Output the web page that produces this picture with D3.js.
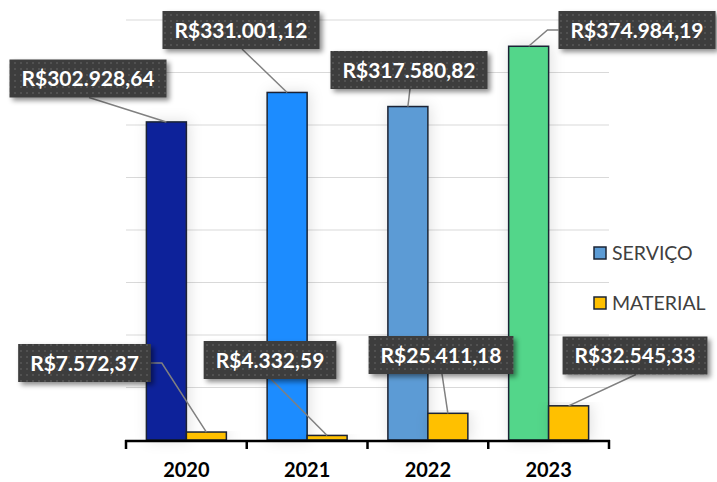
<!DOCTYPE html>
<html lang="pt">
<head>
<meta charset="UTF-8">
<title>Serviço x Material</title>
<script src="https://d3js.org/d3.v7.min.js"></script>
<style>
  body { margin: 0; background: #fff; }
  svg { display: block; }
</style>
</head>
<body>
<svg id="chart" width="717" height="482"></svg>
<script>
// data
const years = ["2020", "2021", "2022", "2023"];
const servico = [302928.64, 331001.12, 317580.82, 374984.19];
const material = [7572.37, 4332.59, 25411.18, 32545.33];
const seriesNames = ["SERVIÇO", "MATERIAL"];
const servicoColors = ["#10219a", "#1a8cff", "#5b9bd5", "#52d68a"];
const materialColor = "#ffc000";

// label box centres (layout only)
const servicoLabelPos = [[88, 78.5], [241, 30], [409, 70], [637, 30]];
const materialLabelPos = [[84.5, 363], [270, 360], [441, 355], [635, 355.5]];

const plotLeft = 126, plotRight = 609, plotBottom = 440, plotTop = 20;

const svg = d3.select("#chart");
const defs = svg.append("defs");

const pat = defs.append("pattern")
  .attr("id", "dots").attr("width", 6).attr("height", 6)
  .attr("patternUnits", "userSpaceOnUse");
pat.append("rect").attr("width", 6).attr("height", 6).attr("fill", "#3d3d3d");
pat.append("circle").attr("cx", 3).attr("cy", 3).attr("r", 0.9).attr("fill", "#5a5a5a");

defs.append("filter").attr("id", "boxShadow")
  .attr("x", "-20%").attr("y", "-30%").attr("width", "140%").attr("height", "170%")
  .append("feDropShadow").attr("dx", 3).attr("dy", 3).attr("stdDeviation", 2.5)
  .attr("flood-color", "#000").attr("flood-opacity", 0.45);

defs.append("filter").attr("id", "barShadow")
  .attr("x", "-60%").attr("y", "-10%").attr("width", "220%").attr("height", "120%")
  .append("feDropShadow").attr("dx", 2).attr("dy", 0).attr("stdDeviation", 7)
  .attr("flood-color", "#000").attr("flood-opacity", 0.12);

const fmt = v => "R$" + d3.format(",.2f")(v).replace(/,/g, "#").replace(/\./g, ",").replace(/#/g, ".");

const x = d3.scaleBand().domain(years).range([plotLeft, plotRight]).paddingInner(0).paddingOuter(0);
const xs = d3.scaleBand().domain(seriesNames).range([0, x.bandwidth()]).paddingInner(0).paddingOuter(0.51);
const y = d3.scaleLinear().domain([0, 400000]).range([plotBottom, plotTop]);

// gridlines
svg.append("g")
  .selectAll("line")
  .data(y.ticks(8).filter(d => d > 0))
  .join("line")
    .attr("x1", plotLeft).attr("x2", plotRight)
    .attr("y1", d => y(d)).attr("y2", d => y(d))
    .attr("stroke", "#d9d9d9").attr("stroke-width", 1);

// bars
const bars = [];
years.forEach((yr, i) => {
  bars.push({ year: yr, s: "SERVIÇO", v: servico[i], color: servicoColors[i], pos: servicoLabelPos[i] });
  bars.push({ year: yr, s: "MATERIAL", v: material[i], color: materialColor, pos: materialLabelPos[i] });
});

svg.append("g")
  .selectAll("rect")
  .data(bars)
  .join("rect")
    .attr("x", d => x(d.year) + xs(d.s))
    .attr("y", d => y(d.v))
    .attr("width", xs.bandwidth())
    .attr("height", d => plotBottom - y(d.v))
    .attr("fill", d => d.color)
    .attr("stroke", "#1b2434")
    .attr("stroke-width", 1.5)
    .attr("filter", "url(#barShadow)");

// axis
const axis = svg.append("g");
axis.append("line").attr("x1", plotLeft - 1).attr("x2", plotRight + 1)
  .attr("y1", plotBottom + 1).attr("y2", plotBottom + 1)
  .attr("stroke", "#000").attr("stroke-width", 2.5);
axis.selectAll("line.tick")
  .data(years.map(d => x(d)).concat([plotRight]))
  .join("line").attr("class", "tick")
  .attr("x1", d => d).attr("x2", d => d)
  .attr("y1", plotBottom).attr("y2", plotBottom + 9)
  .attr("stroke", "#000").attr("stroke-width", 2.5);
axis.selectAll("text")
  .data(years)
  .join("text")
    .attr("x", d => x(d) + x.bandwidth() / 2)
    .attr("y", 477)
    .attr("text-anchor", "middle")
    .attr("font-family", "Lato, sans-serif")
    .attr("font-weight", "bold")
    .attr("font-size", 20)
    .attr("fill", "#000")
    .text(d => d);

// data labels
const labels = svg.append("g");
bars.forEach(d => {
  const tx = x(d.year) + xs(d.s) + xs.bandwidth() / 2;
  const ty = y(d.v);
  const g = labels.append("g");
  const leader = g.append("path");
  const box = g.append("rect");
  const t = g.append("text")
    .attr("x", d.pos[0]).attr("y", d.pos[1] + 7.5)
    .attr("text-anchor", "middle")
    .attr("font-family", "Lato, sans-serif")
    .attr("font-weight", "bold")
    .attr("font-size", 21)
    .attr("fill", "#fff")
    .text(fmt(d.v));
  const tw = t.node().getComputedTextLength();
  const bw = tw + 24, bh = 38;
  const bx = d.pos[0] - bw / 2, by = d.pos[1] - bh / 2;
  box.attr("x", bx).attr("y", by).attr("width", bw).attr("height", bh)
    .attr("fill", "url(#dots)").attr("filter", "url(#boxShadow)");
  let p;
  if (tx >= bx - 15 && tx <= bx + bw + 15) {
    const sy = ty > by ? by + bh : by;
    p = [[d.pos[0] + 1, sy], [tx, ty]];
  } else if (tx < bx) {
    p = [[bx, d.pos[1]], [bx - 11, d.pos[1]], [tx, ty]];
  } else {
    p = [[bx + bw, d.pos[1]], [bx + bw + 11, d.pos[1]], [tx, ty]];
  }
  leader.attr("d", d3.line()(p)).attr("fill", "none")
    .attr("stroke", "#808080").attr("stroke-width", 1.5);
});

// legend
const legend = svg.append("g").attr("transform", "translate(594,247)");
const legendColors = ["#5b9bd5", materialColor];
seriesNames.forEach((n, i) => {
  const g = legend.append("g").attr("transform", `translate(0,${i * 50})`);
  g.append("rect").attr("width", 12).attr("height", 12)
    .attr("fill", legendColors[i]).attr("stroke", "#1b2434").attr("stroke-width", 1.5);
  g.append("text").attr("x", 18).attr("y", 13)
    .attr("font-family", "Lato, sans-serif").attr("font-size", 19.5)
    .attr("fill", "#404040").text(n);
});
</script>
</body>
</html>
